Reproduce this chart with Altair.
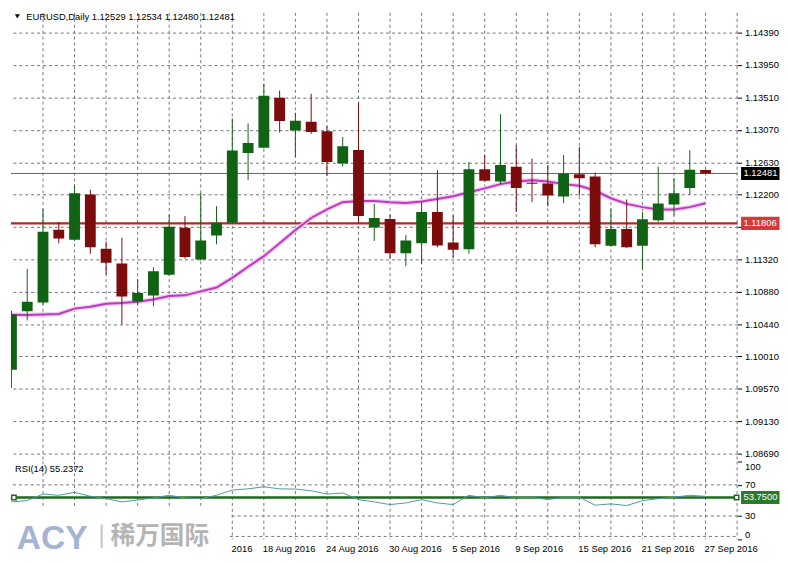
import altair as alt
import pandas as pd

# ---------------- data ----------------
symbol = "EURUSD,Daily"
opens = [1.09826, 1.10617, 1.10737, 1.11719, 1.11586, 1.12195, 1.11462, 1.11262, 1.10750, 1.10830,
         1.11110, 1.11746, 1.11319, 1.11643, 1.11813, 1.12759, 1.12830, 1.13506, 1.13062, 1.13182,
         1.13053, 1.12617, 1.12799, 1.11750, 1.11866, 1.11403, 1.11537, 1.11959, 1.11546, 1.11457,
         1.12537, 1.12373, 1.12573, 1.12355, 1.12346, 1.12169, 1.12470, 1.12439, 1.11502, 1.11729,
         1.11502, 1.11849, 1.12062, 1.12283, 1.12529]
highs = [1.10626, 1.11190, 1.12003, 1.11826, 1.12329, 1.12262, 1.11559, 1.11613, 1.11049, 1.11213,
         1.11923, 1.11906, 1.12217, 1.12039, 1.13226, 1.13159, 1.13693, 1.13603, 1.13302, 1.13559,
         1.13123, 1.12973, 1.13443, 1.12070, 1.11923, 1.11649, 1.12093, 1.12523, 1.11915, 1.12635,
         1.12733, 1.13283, 1.12862, 1.12683, 1.12595, 1.12729, 1.12839, 1.12493, 1.12003, 1.12129,
         1.11959, 1.12573, 1.12417, 1.12795, 1.12534]
lows = [1.09582, 1.10493, 1.10706, 1.11537, 1.11569, 1.11395, 1.11115, 1.10439, 1.10706, 1.10683,
        1.11102, 1.11329, 1.11302, 1.11523, 1.11803, 1.12390, 1.12822, 1.13035, 1.12702, 1.13017,
        1.12449, 1.12573, 1.11803, 1.11569, 1.11329, 1.11226, 1.11262, 1.11483, 1.11346, 1.11395,
        1.12369, 1.12337, 1.11959, 1.12093, 1.12035, 1.12079, 1.12182, 1.11483, 1.11493, 1.11470,
        1.11182, 1.11826, 1.11915, 1.12195, 1.12480]
closes = [1.10573, 1.10746, 1.11693, 1.11603, 1.12213, 1.11483, 1.11275, 1.10817, 1.10866, 1.11159,
          1.11759, 1.11350, 1.11573, 1.11813, 1.12790, 1.12893, 1.13533, 1.13190, 1.13195, 1.13043,
          1.12635, 1.12849, 1.11906, 1.11879, 1.11403, 1.11573, 1.11959, 1.11506, 1.11449, 1.12537,
          1.12382, 1.12595, 1.12283, 1.12342, 1.12182, 1.12479, 1.12417, 1.11523, 1.11729, 1.11483,
          1.11862, 1.12075, 1.12213, 1.12533, 1.12481]
ma_values = [1.10570, 1.10566, 1.10573, 1.10582, 1.10653, 1.10679, 1.10719, 1.10729, 1.10746, 1.10777,
             1.10823, 1.10833, 1.10886, 1.10939, 1.11070, 1.11219, 1.11363, 1.11537, 1.11715, 1.11879,
             1.11995, 1.12093, 1.12110, 1.12110, 1.12093, 1.12083, 1.12102, 1.12137, 1.12173, 1.12226,
             1.12279, 1.12337, 1.12373, 1.12390, 1.12373, 1.12337, 1.12315, 1.12249, 1.12146, 1.12070,
             1.12026, 1.11995, 1.11995, 1.12026, 1.12079]
rsi_values = [48.1, 49.7, 58.2, 56.6, 60.4, 55.3, 52.3, 48.1, 50.6, 53.2,
              56.6, 53.2, 52.3, 56.6, 63.3, 64.9, 67.5, 64.9, 64.6, 62.4,
              58.2, 59.5, 51.0, 48.1, 44.7, 46.8, 51.0, 46.8, 44.7, 56.6,
              53.2, 56.6, 53.2, 54.1, 51.0, 54.1, 54.1, 43.9, 45.6, 43.4,
              49.7, 52.3, 54.1, 56.6, 55.2372]
price_ticks = [1.14390, 1.13950, 1.13510, 1.13070, 1.12630, 1.12200, 1.11760,
               1.11320, 1.10880, 1.10440, 1.10010, 1.09570, 1.09130, 1.08690]
rsi_ticks = [100, 70, 30, 0]
rsi_grid = [70, 30]
rsi_level = 53.75
hline_level = 1.11806
label_idx = [12, 16, 20, 24, 28, 32, 36, 40, 44]
label_text = ["12 Aug 2016", "18 Aug 2016", "24 Aug 2016", "30 Aug 2016", "5 Sep 2016",
              "9 Sep 2016", "15 Sep 2016", "21 Sep 2016", "27 Sep 2016"]

n = len(opens)
idx = list(range(n))
grid_idx = list(range(2, n + 2, 2))

# ---------------- styling ----------------
FONT = "Liberation Sans"
FS = 9.5
BULL = "#0f6312"
BEAR = "#7c0b0b"
GRID = "#72727f"
MA_C = "#bb3cbb"
MA_HALO = "#f3c8f3"
BID_C = "#60608e"
HL_C = "#a82c2c"
RSI_C = "#4f97a8"
LEVEL_C = "#1d6a1d"
BOX_SHAPE = "M-1,-0.34H1V0.34H-1Z"

W = 737
H_MAIN = 455
H_RSI = 79

x_scale = alt.Scale(domain=[-0.03125, 46.03125], nice=False, zero=False, padding=0)
y_scale = alt.Scale(domain=[1.08586, 1.146527], nice=False, zero=False, padding=0)
r_scale = alt.Scale(domain=[0, 100], nice=False, zero=False, padding=0)

candles = pd.DataFrame({"i": idx, "open": opens, "high": highs, "low": lows,
                        "close": closes, "ma": ma_values, "rsi": rsi_values})
grid_df = pd.DataFrame({"i": grid_idx})
labels_df = pd.DataFrame({"i": label_idx, "label": label_text})
one = pd.DataFrame({"k": [0]})

X = alt.X("i:Q", scale=x_scale, axis=None)

# the tick label that sits behind the horizontal-line price box is left blank
price_label_expr = (f"abs(datum.value - {hline_level}) < 0.001 ? '' : "
                    f"format(datum.value, '.5f')")

y_axis = alt.Axis(orient="right", values=price_ticks, labelExpr=price_label_expr, grid=True,
                  gridDash=[3, 3], gridColor=GRID, gridOpacity=1, gridWidth=1,
                  domain=False, ticks=True, tickSize=4, tickColor="#000000", tickWidth=1,
                  labelPadding=3, labelFont=FONT, labelFontSize=FS, labelColor="#000000",
                  labelOverlap=False, labelFlush=False, title=None, zindex=0)


def PY(f):
    return alt.Y(f"{f}:Q", scale=y_scale, axis=y_axis)


candle_color = alt.condition("datum.close >= datum.open", alt.value(BULL), alt.value(BEAR))

# ---------------- main price pane ----------------
vgrid = alt.Chart(grid_df).mark_rule(strokeDash=[3, 3], color=GRID, strokeWidth=1).encode(x=X)

bid_df = pd.DataFrame({"price": [closes[-1]]})
hl_df = pd.DataFrame({"price": [hline_level]})

bid_line = alt.Chart(bid_df).mark_rule(color=BID_C, strokeWidth=1).encode(y=PY("price"))
hl_line = alt.Chart(hl_df).mark_rule(color=HL_C, strokeWidth=2.5).encode(y=PY("price"))

base = alt.Chart(candles)
ma_halo = base.mark_line(color=MA_HALO, strokeWidth=4.5, clip=True).encode(x=X, y=PY("ma"))
ma_line = base.mark_line(color=MA_C, strokeWidth=2, clip=True).encode(x=X, y=PY("ma"))
wicks = base.mark_rule(strokeWidth=1, clip=True).encode(
    x=X, y=PY("low"), y2="high", color=candle_color)
bodies = base.mark_bar(size=11, clip=True).encode(
    x=X, y=PY("open"), y2="close", color=candle_color)

title_text = f"{symbol}  {opens[-1]:.5f} {highs[-1]:.5f} {lows[-1]:.5f} {closes[-1]:.5f}"
tri = alt.Chart(one).mark_point(shape="triangle-down", filled=True, color="#000000",
                                size=26, opacity=1).encode(x=alt.value(6.5), y=alt.value(3.5))
title = alt.Chart(one).mark_text(align="left", baseline="middle", font=FONT, fontSize=FS,
                                 color="#000000").encode(
    x=alt.value(15.5), y=alt.value(4.5), text=alt.value(title_text))

box_df = pd.DataFrame({"price": [closes[-1], hline_level], "fill": ["#000000", "#d43a3a"]})
boxes = alt.Chart(box_df).mark_point(shape=BOX_SHAPE, size=39 * 39, filled=True, opacity=1,
                                     strokeWidth=0).encode(
    x=alt.value(760), y=PY("price"), color=alt.Color("fill:N", scale=None))
box_text = alt.Chart(box_df).mark_text(align="left", baseline="middle", font=FONT,
                                       fontSize=FS, color="#ffffff").encode(
    x=alt.value(743), y=PY("price"), text=alt.Text("price:Q", format=".5f"))

main = alt.layer(vgrid, bid_line, hl_line, ma_halo, ma_line, wicks, bodies,
                 tri, title, boxes, box_text).properties(width=W, height=H_MAIN)

# ---------------- RSI pane ----------------
r_axis = alt.Axis(orient="right", values=rsi_ticks, grid=False, domain=False, ticks=True,
                  tickSize=4, tickColor="#000000", labelPadding=3, labelFont=FONT,
                  labelFontSize=FS, labelColor="#000000", labelFlush=True,
                  labelOverlap=False, title=None, zindex=0, format="d")


def RY(f):
    return alt.Y(f"{f}:Q", scale=r_scale, axis=r_axis)


vgrid2 = alt.Chart(grid_df).mark_rule(strokeDash=[3, 3], color=GRID, strokeWidth=1).encode(x=X)
rgrid = alt.Chart(pd.DataFrame({"v": rsi_grid})).mark_rule(
    strokeDash=[3, 3], color=GRID, strokeWidth=1).encode(y=RY("v"))
bottom_border = alt.Chart(one).mark_rule(strokeDash=[3, 3], color=GRID, strokeWidth=1).encode(
    x=alt.value(0), x2=alt.value(W), y=alt.value(H_RSI - 3))

lvl_df = pd.DataFrame({"v": [rsi_level]})
level = alt.Chart(lvl_df).mark_rule(color=LEVEL_C, strokeWidth=2.5).encode(y=RY("v"))
sq_left = alt.Chart(lvl_df).mark_square(size=20, fill="#ffffff", stroke=LEVEL_C,
                                        strokeWidth=1.5, opacity=1).encode(
    x=alt.value(3), y=RY("v"))
sq_right = alt.Chart(lvl_df).mark_square(size=20, fill="#ffffff", stroke=LEVEL_C,
                                         strokeWidth=1.5, opacity=1).encode(
    x=alt.value(736), y=RY("v"))
rsi_line = base.mark_line(color=RSI_C, strokeWidth=1, clip=True).encode(x=X, y=RY("rsi"))

lvl_box = alt.Chart(lvl_df).mark_point(shape=BOX_SHAPE, size=39 * 39, filled=True, opacity=1,
                                       strokeWidth=0, color="#2b7a2b").encode(
    x=alt.value(760), y=RY("v"))
lvl_text = alt.Chart(lvl_df).mark_text(align="left", baseline="middle", font=FONT,
                                       fontSize=FS, color="#ffffff").encode(
    x=alt.value(743), y=RY("v"), text=alt.Text("v:Q", format=".4f"))

rsi_title = alt.Chart(one).mark_text(align="left", baseline="middle", font=FONT,
                                     fontSize=FS, color="#000000").encode(
    x=alt.value(4), y=alt.value(8), text=alt.value(f"RSI(14) {rsi_values[-1]:.4f}"))

xlabels = alt.Chart(labels_df).mark_text(align="left", baseline="middle", font=FONT,
                                         fontSize=FS, color="#000000", dx=-1).encode(
    x=X, y=alt.value(89), text="label:N")

wm_box = alt.Chart(one).mark_rect(color="#ffffff", opacity=1).encode(
    x=alt.value(0), x2=alt.value(222), y=alt.value(47), y2=alt.value(99))
wm_acy = alt.Chart(one).mark_text(align="left", baseline="alphabetic", font=FONT,
                                  fontSize=34, fontWeight="bold", color="#a5b4d2").encode(
    x=alt.value(6), y=alt.value(88.5), text=alt.value("ACY"))
wm_bar = alt.Chart(one).mark_rule(color="#c4c4c4", strokeWidth=2).encode(
    x=alt.value(92), y=alt.value(64), y2=alt.value(88))
wm_cn = alt.Chart(one).mark_text(align="left", baseline="middle", font="Noto Sans CJK SC",
                                 fontSize=25, fontWeight="bold", color="#b4b4b4").encode(
    x=alt.value(101), y=alt.value(76), text=alt.value("稀万国际"))

rsi = alt.layer(vgrid2, rgrid, bottom_border, level, sq_left, sq_right, rsi_line,
                lvl_box, lvl_text, rsi_title, xlabels,
                wm_box, wm_acy, wm_bar, wm_cn).properties(width=W, height=H_RSI)

chart = alt.vconcat(main, rsi, spacing=0, bounds="flush").properties(
    padding=0, background="#ffffff"
).configure_view(stroke=None)

chart.save("out.html", embed_options={"renderer": "svg", "actions": False})
